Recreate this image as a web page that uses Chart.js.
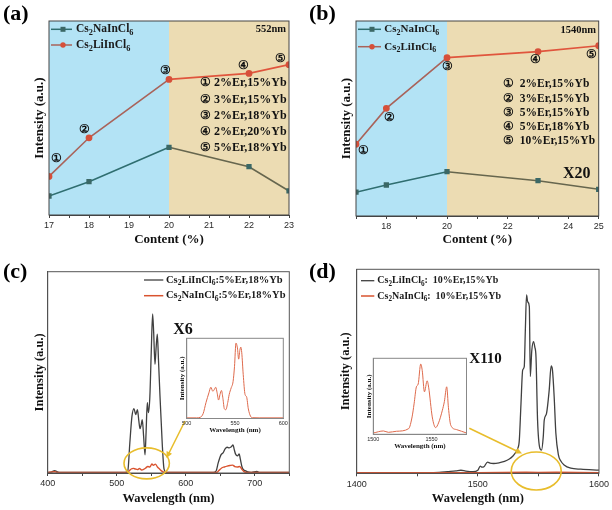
<!DOCTYPE html>
<html><head><meta charset="utf-8">
<script src="https://cdn.jsdelivr.net/npm/chart.js@4/dist/chart.umd.min.js"></script>
<style>
html,body{margin:0;padding:0;background:#fff;}
#wrap{position:relative;width:612px;height:510px;overflow:hidden;background:#fff;}
canvas{position:absolute;}
</style></head><body>
<div id="wrap">
<canvas id="ca" width="306" height="255" style="left:0;top:0"></canvas>
<canvas id="cb" width="306" height="255" style="left:306px;top:0"></canvas>
<canvas id="cc" width="306" height="255" style="left:0;top:255px"></canvas>
<canvas id="cd" width="306" height="255" style="left:306px;top:255px"></canvas>
<canvas id="ci" width="120" height="106" style="left:170px;top:330px"></canvas>
<canvas id="cj" width="118" height="102" style="left:355px;top:350px"></canvas>
</div>
<script>
// ---------------- data ----------------
const contentA = [17, 18, 20, 22, 23];
const naA = [9.8, 17.2, 34.9, 24.9, 12.4];
const liA = [19.9, 39.8, 69.9, 73.0, 77.5];
const tickValuesA = [17, 17.5, 18, 18.5, 19, 19.5, 20, 20.5, 21, 21.5, 22, 22.5, 23];
const tickLabelsA = [17, 18, 19, 20, 21, 22, 23];
const notesA = ['① 2%Er,15%Yb', '② 3%Er,15%Yb', '③ 2%Er,18%Yb', '④ 2%Er,20%Yb', '⑤ 5%Er,18%Yb'];

const contentB = [17, 18, 20, 23, 25];
const naB = [12.2, 15.9, 22.7, 18.1, 13.7];
const liB = [36.8, 55.2, 81.2, 84.3, 87.3];
const tickValuesB = [17, 18, 19, 20, 21, 22, 23, 24, 25];
const tickLabelsB = [18, 20, 22, 24, 25];
const notesB = ['①  2%Er,15%Yb', '②  3%Er,15%Yb', '③  5%Er,15%Yb', '④  5%Er,18%Yb', '⑤  10%Er,15%Yb'];
const circled = ['①', '②', '③', '④', '⑤'];

const wlCLi = [400, 405, 410, 415, 420, 500, 512, 516, 519, 522, 525, 527.5, 530, 532, 533.7, 535.5, 537, 539, 541, 542.5, 544.3, 546, 548, 550, 552, 553.5, 555.4, 557, 558.8, 560.5, 562.7, 564.5, 566, 568.5, 571, 575, 640, 644, 647, 651, 654, 657, 660, 663, 666, 668.5, 670, 672, 675, 677.5, 679, 681.5, 684, 686, 690, 695, 703, 706, 750];
const intCLi = [0.3, 0.4, 1.2, 0.4, 0.3, 0.3, 0.3, 1, 15, 28, 32, 29, 31.5, 26, 22, 24, 26.5, 18, 9, 20, 35, 30, 38, 60, 79, 70, 54, 62, 69, 56, 38, 25, 14, 2, 0.5, 0.3, 0.3, 1, 5, 9, 10, 12, 12.8, 12.5, 13, 14, 12, 9.5, 8.5, 9.5, 7, 3, 1.5, 1.2, 0.5, 0.3, 0.8, 0.3, 0.3];
const wlCNa = [400, 410, 415, 515, 518, 521, 524, 527, 530, 533, 536, 539, 542, 545, 548, 551, 553, 556, 559, 562, 566, 570, 645, 648, 652, 656, 660, 664, 668, 671, 675, 678, 681, 684, 688, 750];
const intCNa = [0.3, 0.6, 0.3, 0.3, 1, 2, 2.3, 2, 1.7, 2.2, 1.5, 1.8, 2.5, 3.2, 3, 4.5, 3.8, 4.4, 3, 2, 0.8, 0.3, 0.3, 1.2, 2.5, 3, 3.4, 3.7, 3.9, 3.2, 3, 3.2, 2, 0.8, 0.3, 0.3];
const tickValuesC = [400, 450, 500, 550, 600, 650, 700, 750];
const tickLabelsC = [400, 500, 600, 700];

const wlInsetC = [500, 510, 514, 517, 520, 523, 525, 527, 528.5, 530, 531.5, 533, 534.5, 536, 537.5, 539, 540.5, 542.5, 544, 546, 548, 549.5, 551, 552.5, 553.8, 555, 556, 557, 558.5, 560.4, 562, 563.8, 566, 568, 575, 600];
const intInsetC = [0.8, 0.8, 1.5, 6, 20, 32, 39, 34, 36, 39, 32, 23, 30, 35, 25, 12, 11, 20, 30, 38, 46, 65, 94, 88, 74, 85, 89, 82, 55, 30, 27, 12, 3, 1, 0.8, 0.8];
const tickValuesI = [500, 550, 600];

const wlDLi = [1400, 1460, 1468, 1475, 1482, 1486, 1490, 1496, 1500, 1502, 1503.5, 1505, 1508, 1510, 1513, 1518, 1522, 1526, 1529, 1531, 1532.8, 1534.2, 1535.6, 1537, 1538.3, 1539.2, 1540.2, 1541.2, 1542.5, 1543.3, 1544.5, 1546, 1547, 1548, 1549.3, 1551.2, 1552.6, 1554, 1554.8, 1556.7, 1558.9, 1560.5, 1561.6, 1563, 1564.4, 1566.5, 1568.5, 1571.2, 1576.7, 1585, 1600];
const intDLi = [0.2, 0.2, 0.4, 0.8, 1.2, 1.5, 1.1, 0.8, 1.5, 3.5, 3, 3.2, 5.5, 5, 4.8, 5.2, 5.8, 7, 8.5, 10, 12, 16, 34, 50.6, 52.3, 70, 87.4, 84, 81.7, 47.4, 60, 64.5, 62, 57, 26, 12.3, 11.4, 18, 26, 29.4, 40.8, 52.6, 50.6, 37.5, 19.6, 9, 6, 4.1, 2.5, 2, 1.6];
const wlDNa = [1400, 1450, 1500, 1540, 1550, 1565, 1600];
const intDNa = [0.3, 0.3, 0.35, 0.6, 0.45, 0.5, 0.3];
const tickValuesD = [1400, 1450, 1500, 1550, 1600];
const tickLabelsD = [1400, 1500, 1600];

const wlInsetD = [1500, 1508.7, 1513, 1520, 1530.4, 1533.3, 1535, 1537, 1538.5, 1540.7, 1542, 1543.9, 1546.2, 1547.5, 1550.6, 1553.5, 1556, 1559.3, 1561, 1563, 1564.5, 1566.5, 1571.4, 1580];
const intInsetD = [1.7, 4.4, 2.6, 4, 7.5, 22.9, 40, 62.5, 66, 92.5, 84, 55.9, 70.4, 62, 22.9, 8.8, 15, 31.7, 43, 62.5, 35, 11.9, 6.2, 1.7];
const tickValuesJ = [1500, 1550];

// ---------------- helpers ----------------
const SERIF = '"Liberation Serif", "Times New Roman", "DejaVu Serif", serif';
const SANS = '"Liberation Sans", Arial, sans-serif';
const BLUE_BAND = '#b3e3f5', TAN_BAND = '#ecdcb3';
const NA_BLUE = '#2f6e70', NA_TAN = '#66664e', NA_PT = '#3b6866';
const LI_BLUE = '#a9635a', LI_TAN = '#e0553d', LI_PT = '#d6503a';
const SPEC_BLACK = '#404040', SPEC_RED = '#d9532f', YELLOW = '#e8bd2c';
const SUBS = '₀₁₂₃₄₅₆₇₈₉';

// draws a string; Unicode subscript digits are rendered as lowered, smaller digits
function drawRich(ctx, text, x, y, size, align) {
  const runs = [];
  for (const ch of text) {
    const si = SUBS.indexOf(ch);
    const sub = si >= 0;
    const c = sub ? String(si) : ch;
    if (runs.length && runs[runs.length - 1].sub === sub) runs[runs.length - 1].t += c;
    else runs.push({t: c, sub: sub});
  }
  const fNorm = `bold ${size}px ${SERIF}`, fSub = `bold ${size * 0.72}px ${SERIF}`;
  let total = 0;
  runs.forEach(r => { ctx.font = r.sub ? fSub : fNorm; r.w = ctx.measureText(r.t).width; total += r.w; });
  let cx = align === 'right' ? x - total : align === 'center' ? x - total / 2 : x;
  ctx.textAlign = 'left'; ctx.textBaseline = 'middle';
  runs.forEach(r => {
    ctx.font = r.sub ? fSub : fNorm;
    ctx.fillText(r.t, cx, r.sub ? y + size * 0.3 : y);
    cx += r.w;
  });
}

const decor = {
  id: 'decor',
  beforeDatasetsDraw(chart, args, o) {
    if (!o.bands) return;
    const {ctx, chartArea: a, scales: {x}} = chart;
    ctx.save();
    o.bands.forEach(b => {
      const x0 = x.getPixelForValue(b.from), x1 = x.getPixelForValue(b.to);
      ctx.fillStyle = b.color;
      ctx.fillRect(x0, a.top, x1 - x0, a.bottom - a.top);
    });
    ctx.restore();
  },
  afterDraw(chart, args, o) {
    const {ctx, chartArea: a, scales: {x, y}} = chart;
    ctx.save();
    if (o.frame) {
      ctx.strokeStyle = o.frame; ctx.lineWidth = o.frameWidth || 1;
      ctx.strokeRect(a.left, a.top, a.right - a.left, a.bottom - a.top);
    }
    (o.ellipses || []).forEach(e => {
      ctx.beginPath(); ctx.strokeStyle = e.color; ctx.lineWidth = e.width;
      ctx.ellipse(x.getPixelForValue(e.cx), y.getPixelForValue(e.cy), e.rx, e.ry, 0, 0, Math.PI * 2);
      ctx.stroke();
    });
    (o.arrows || []).forEach(r => {
      ctx.strokeStyle = r.color; ctx.fillStyle = r.color; ctx.lineWidth = r.width;
      const ang = Math.atan2(r.y1 - r.y0, r.x1 - r.x0), L = r.head || 6;
      ctx.beginPath(); ctx.moveTo(r.x0, r.y0);
      ctx.lineTo(r.x1 - L * 0.6 * Math.cos(ang), r.y1 - L * 0.6 * Math.sin(ang)); ctx.stroke();
      ctx.beginPath(); ctx.moveTo(r.x1, r.y1);
      ctx.lineTo(r.x1 - L * Math.cos(ang - 0.45), r.y1 - L * Math.sin(ang - 0.45));
      ctx.lineTo(r.x1 - L * Math.cos(ang + 0.45), r.y1 - L * Math.sin(ang + 0.45));
      ctx.closePath(); ctx.fill();
    });
    (o.legend || []).forEach(l => {
      ctx.strokeStyle = l.color; ctx.lineWidth = l.width || 1.5;
      ctx.beginPath(); ctx.moveTo(l.x0, l.y); ctx.lineTo(l.x1, l.y); ctx.stroke();
      if (l.marker === 'rect') { ctx.fillStyle = l.mcolor; ctx.fillRect(l.mx - 2.5, l.y - 2.5, 5, 5); }
      else if (l.marker === 'circle') { ctx.fillStyle = l.mcolor; ctx.beginPath(); ctx.arc(l.mx, l.y, 2.7, 0, Math.PI * 2); ctx.fill(); }
      ctx.fillStyle = '#1a1a1a';
      drawRich(ctx, l.text, l.tx, l.y, l.size, 'left');
    });
    (o.texts || []).forEach(t => {
      ctx.fillStyle = t.color || '#111';
      drawRich(ctx, t.text, t.x, t.y, t.size, t.align || 'left');
    });
    ctx.restore();
  }
};
Chart.register(decor);

function makeScales(p) {
  const tf = {family: SERIF, size: p.titleSize, weight: 'bold', lineHeight: 1.2};
  const lh = p.titleSize * 1.2;
  return {
    x: {
      type: 'linear', min: p.xmin, max: p.xmax,
      afterBuildTicks: s => { s.ticks = p.ticks.map(v => ({value: v})); },
      afterFit: s => { s.height = p.H - p.bottom; },
      ticks: {autoSkip: false, maxRotation: 0, minRotation: 0, font: {size: p.tickSize, family: SANS}, color: '#2a2a2a', padding: p.tickPad,
        callback: v => (p.labels.indexOf(v) >= 0 ? String(v) : '')},
      grid: {display: true, drawOnChartArea: false, drawTicks: p.tickLen > 0, tickLength: p.tickLen, color: '#444', lineWidth: 1},
      border: {display: true, color: p.axisColor || '#444', width: 1},
      title: {display: true, text: p.xTitle, font: tf, color: '#111', padding: {top: 0, bottom: p.H - p.xTitleY - lh / 2}}
    },
    y: {
      type: 'linear', min: p.ymin, max: p.ymax,
      afterFit: s => { s.width = p.left; },
      ticks: {display: false},
      grid: {display: false, drawTicks: false},
      border: {display: true, color: p.axisColor || '#444', width: 1},
      title: {display: true, text: p.yTitle, font: tf, color: '#111', padding: {top: p.yTitleX - lh / 2, bottom: 0}}
    }
  };
}

function baseOptions(p, decorOpts) {
  return {
    responsive: false, animation: false, devicePixelRatio: 1,
    layout: {padding: {left: 0, top: p.top, right: p.W - p.right, bottom: 0}},
    scales: makeScales(p),
    plugins: {legend: {display: false}, tooltip: {enabled: false}, decor: decorOpts}
  };
}

function pts(xs, ys) { return xs.map((x, i) => ({x: x, y: ys[i]})); }

function lineDatasets(xs, na, li) {
  return [
    {label: 'Cs₂LiInCl₆', data: pts(xs, li), borderWidth: 1.6, pointStyle: 'circle', pointRadius: 2.6,
      pointBackgroundColor: LI_PT, pointBorderColor: LI_PT, borderColor: LI_TAN,
      segment: {borderColor: c => (c.p0.parsed.x >= 20 ? LI_TAN : LI_BLUE)}, order: 0},
    {label: 'Cs₂NaInCl₆', data: pts(xs, na), borderWidth: 1.6, pointStyle: 'rect', pointRadius: 2.6,
      pointBackgroundColor: NA_PT, pointBorderColor: NA_PT, borderColor: NA_TAN,
      segment: {borderColor: c => (c.p0.parsed.x >= 20 ? NA_TAN : NA_BLUE)}, order: 1}
  ];
}

// ---------------- panel (a) ----------------
const pA = {W: 306, H: 255, left: 49, right: 289, top: 21, bottom: 215, xmin: 17, xmax: 23, ymin: 0, ymax: 100,
  ticks: tickValuesA, labels: tickLabelsA, tickSize: 9, tickPad: 2, tickLen: 3,
  titleSize: 13, xTitle: 'Content (%)', yTitle: 'Intensity (a.u.)', xTitleY: 240, yTitleX: 40};
new Chart(document.getElementById('ca'), {
  type: 'line',
  data: {datasets: lineDatasets(contentA, naA, liA)},
  options: baseOptions(pA, {
    bands: [{from: 17, to: 20, color: BLUE_BAND}, {from: 20, to: 23, color: TAN_BAND}],
    frame: '#444',
    legend: [
      {text: 'Cs₂NaInCl₆', color: NA_BLUE, mcolor: NA_PT, marker: 'rect', x0: 51, x1: 72, mx: 63, y: 29.3, tx: 76, size: 11.5},
      {text: 'Cs₂LiInCl₆', color: LI_BLUE, mcolor: LI_PT, marker: 'circle', x0: 51, x1: 72, mx: 63, y: 45, tx: 76, size: 11.5}
    ],
    texts: [
      {text: '(a)', x: 3, y: 14, size: 22, color: '#000'},
      {text: '552nm', x: 286, y: 29.5, size: 10.5, align: 'right'},
      {text: circled[0], x: 56.7, y: 159.3, size: 12, align: 'center'},
      {text: circled[1], x: 84, y: 130, size: 12, align: 'center'},
      {text: circled[2], x: 165.7, y: 70.7, size: 12, align: 'center'},
      {text: circled[3], x: 243.3, y: 66, size: 12, align: 'center'},
      {text: circled[4], x: 280.7, y: 59.3, size: 12, align: 'center'},
      {text: notesA[0], x: 200, y: 83.3, size: 12},
      {text: notesA[1], x: 200, y: 100, size: 12},
      {text: notesA[2], x: 200, y: 115.7, size: 12},
      {text: notesA[3], x: 200, y: 131.7, size: 12},
      {text: notesA[4], x: 200, y: 147.7, size: 12}
    ]
  })
});

// ---------------- panel (b) ----------------
const pB = {W: 306, H: 255, left: 50, right: 292.7, top: 21, bottom: 216, xmin: 17, xmax: 25, ymin: 0, ymax: 100,
  ticks: tickValuesB, labels: tickLabelsB, tickSize: 9, tickPad: 2, tickLen: 3,
  titleSize: 13, xTitle: 'Content (%)', yTitle: 'Intensity (a.u.)', xTitleY: 240, yTitleX: 41};
new Chart(document.getElementById('cb'), {
  type: 'line',
  data: {datasets: lineDatasets(contentB, naB, liB)},
  options: baseOptions(pB, {
    bands: [{from: 17, to: 20, color: BLUE_BAND}, {from: 20, to: 25, color: TAN_BAND}],
    frame: '#444',
    legend: [
      {text: 'Cs₂NaInCl₆', color: NA_BLUE, mcolor: NA_PT, marker: 'rect', x0: 52, x1: 75, mx: 66, y: 29.3, tx: 78.3, size: 11},
      {text: 'Cs₂LiInCl₆', color: LI_BLUE, mcolor: LI_PT, marker: 'circle', x0: 52, x1: 75, mx: 66, y: 46.7, tx: 78.3, size: 11}
    ],
    texts: [
      {text: '(b)', x: 3, y: 14, size: 22, color: '#000'},
      {text: '1540nm', x: 290, y: 30, size: 10.5, align: 'right'},
      {text: circled[0], x: 57.3, y: 150.7, size: 12, align: 'center'},
      {text: circled[1], x: 83.3, y: 118.3, size: 12, align: 'center'},
      {text: circled[2], x: 141, y: 66.7, size: 12, align: 'center'},
      {text: circled[3], x: 229.5, y: 60, size: 12, align: 'center'},
      {text: circled[4], x: 285.7, y: 55, size: 12, align: 'center'},
      {text: notesB[0], x: 197, y: 84.3, size: 11.5},
      {text: notesB[1], x: 197, y: 99.3, size: 11.5},
      {text: notesB[2], x: 197, y: 113.3, size: 11.5},
      {text: notesB[3], x: 197, y: 127.3, size: 11.5},
      {text: notesB[4], x: 197, y: 141, size: 11.5},
      {text: 'X20', x: 270.7, y: 174, size: 16, align: 'center'}
    ]
  })
});

// ---------------- panel (c) ----------------
const pC = {W: 306, H: 255, left: 47.7, right: 289.3, top: 16.7, bottom: 218, xmin: 400, xmax: 750, ymin: 0, ymax: 100,
  ticks: tickValuesC, labels: tickLabelsC, tickSize: 9, tickPad: 2, tickLen: 3,
  titleSize: 12.5, xTitle: 'Wavelength (nm)', yTitle: 'Intensity (a.u.)', xTitleY: 243.3, yTitleX: 40};
new Chart(document.getElementById('cc'), {
  type: 'line',
  data: {datasets: [
    {label: 'Cs₂LiInCl₆:5%Er,18%Yb', data: pts(wlCLi, intCLi), borderColor: SPEC_BLACK, borderWidth: 1.3, pointRadius: 0, cubicInterpolationMode: 'monotone', order: 1},
    {label: 'Cs₂NaInCl₆:5%Er,18%Yb', data: pts(wlCNa, intCNa), borderColor: SPEC_RED, borderWidth: 1.4, pointRadius: 0, cubicInterpolationMode: 'monotone', order: 0}
  ]},
  options: baseOptions(pC, {
    frame: '#555',
    ellipses: [{cx: 543.4, cy: 4.8, rx: 22.7, ry: 15.5, color: YELLOW, width: 1.6}],
    arrows: [{x0: 185, y0: 166, x1: 166.5, y1: 203, color: YELLOW, width: 1.6, head: 7}],
    legend: [
      {text: 'Cs₂LiInCl₆:5%Er,18%Yb', color: SPEC_BLACK, x0: 144, x1: 163.3, y: 25, tx: 166, size: 10.5, width: 1.3},
      {text: 'Cs₂NaInCl₆:5%Er,18%Yb', color: SPEC_RED, x0: 144, x1: 163.3, y: 40.7, tx: 166, size: 10.5, width: 1.5}
    ],
    texts: [
      {text: '(c)', x: 3, y: 17, size: 22, color: '#000'},
      {text: 'X6', x: 173.3, y: 75, size: 16}
    ]
  })
});

// ---------------- panel (d) ----------------
const pD = {W: 306, H: 255, left: 50.7, right: 294, top: 14.3, bottom: 218.3, xmin: 1400, xmax: 1600, ymin: 0, ymax: 100,
  ticks: tickValuesD, labels: tickLabelsD, tickSize: 9, tickPad: 3, tickLen: 3,
  titleSize: 12.5, xTitle: 'Wavelength (nm)', yTitle: 'Intensity (a.u.)', xTitleY: 243.3, yTitleX: 40};
new Chart(document.getElementById('cd'), {
  type: 'line',
  data: {datasets: [
    {label: 'Cs₂LiInCl₆:  10%Er,15%Yb', data: pts(wlDLi, intDLi), borderColor: SPEC_BLACK, borderWidth: 1.3, pointRadius: 0, cubicInterpolationMode: 'monotone', order: 1},
    {label: 'Cs₂NaInCl₆:  10%Er,15%Yb', data: pts(wlDNa, intDNa), borderColor: SPEC_RED, borderWidth: 1.4, pointRadius: 0, order: 0}
  ]},
  options: baseOptions(pD, {
    frame: '#555',
    ellipses: [{cx: 1548.2, cy: 1.1, rx: 25, ry: 19, color: YELLOW, width: 1.6}],
    arrows: [{x0: 163.3, y0: 173.3, x1: 216, y1: 198.5, color: YELLOW, width: 1.6, head: 7}],
    legend: [
      {text: 'Cs₂LiInCl₆:  10%Er,15%Yb', color: SPEC_BLACK, x0: 55, x1: 68.3, y: 25.7, tx: 71.3, size: 10, width: 1.3},
      {text: 'Cs₂NaInCl₆:  10%Er,15%Yb', color: SPEC_RED, x0: 55, x1: 68.3, y: 41, tx: 71.3, size: 10, width: 1.5}
    ],
    texts: [
      {text: '(d)', x: 3, y: 17, size: 22, color: '#000'},
      {text: 'X110', x: 163.3, y: 104, size: 15}
    ]
  })
});

// ---------------- insets ----------------
const pI = {W: 120, H: 106, left: 16.7, right: 113.3, top: 8.3, bottom: 88.5, xmin: 500, xmax: 600, ymin: 0, ymax: 100,
  ticks: tickValuesI, labels: tickValuesI, tickSize: 5.5, tickPad: 2, tickLen: 0, axisColor: '#888',
  titleSize: 7, xTitle: 'Wavelength (nm)', yTitle: 'Intensity (a.u.)', xTitleY: 100, yTitleX: 11.7};
new Chart(document.getElementById('ci'), {
  type: 'line',
  data: {datasets: [
    {label: 'Cs₂NaInCl₆ ×6', data: pts(wlInsetC, intInsetC), borderColor: '#de6a4c', borderWidth: 1, pointRadius: 0, cubicInterpolationMode: 'monotone'}
  ]},
  options: baseOptions(pI, {frame: '#888'})
});

const pJ = {W: 118, H: 102, left: 18.3, right: 111.5, top: 8.3, bottom: 84.3, xmin: 1500, xmax: 1580, ymin: 0, ymax: 100,
  ticks: tickValuesJ, labels: tickValuesJ, tickSize: 5.5, tickPad: 2, tickLen: 0, axisColor: '#888',
  titleSize: 7, xTitle: 'Wavelength (nm)', yTitle: 'Intensity (a.u.)', xTitleY: 96, yTitleX: 14.3};
new Chart(document.getElementById('cj'), {
  type: 'line',
  data: {datasets: [
    {label: 'Cs₂NaInCl₆ ×110', data: pts(wlInsetD, intInsetD), borderColor: '#de6a4c', borderWidth: 1, pointRadius: 0, cubicInterpolationMode: 'monotone'}
  ]},
  options: baseOptions(pJ, {frame: '#888'})
});
</script>
</body></html>
